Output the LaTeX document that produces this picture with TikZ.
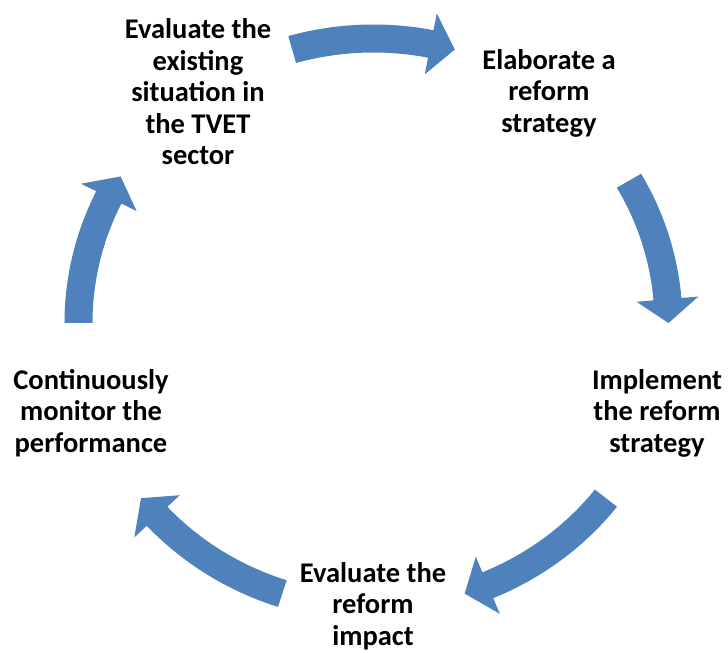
\documentclass[tikz,border=0pt]{standalone}
\usepackage{fontspec}
\setmainfont{Carlito}
\definecolor{cyclearrow}{HTML}{4F81BD}
\begin{document}
\begin{tikzpicture}[x=1pt,y=1pt,
  stage/.style={align=center, inner sep=0pt, text=black,
    font=\fontsize{28.5}{31.5}\selectfont\bfseries},
  arrowfill/.style={fill=cyclearrow}]
  % frame, ellipse centre at origin
  \useasboundingbox (-373.5pt,-330pt) rectangle (354.5pt,323pt);
  \fill[white] (-373.5pt,-330pt) rectangle (354.5pt,323pt);

  % curved block arrows around the cycle (tail angle / tip angle)
  \foreach \sa/\ta in {106/74, 30/0, -38/-72, -108/-142, 180/149} {
    \pgfmathsetmacro\ba{\ta+4.8}
    \fill[arrowfill]
      (\sa:309pt and 298.5pt)
        arc[start angle=\sa, end angle=\ba, x radius=309pt, y radius=298.5pt]
      -- (\ba:326pt and 315.5pt)
      -- (\ta:295pt and 284.5pt)
      -- (\ba:264pt and 253.5pt)
      -- (\ba:281pt and 270.5pt)
        arc[start angle=\ba, end angle=\sa, x radius=281pt, y radius=270.5pt]
      -- cycle;
  }

  % stage labels
  \node[stage] (evaluate) at (-175.5pt,231pt) {Evaluate the\\existing\\situation in\\the TVET\\sector};
  \node[stage] (elaborate) at (175.5pt,230pt) {Elaborate a\\reform\\strategy};
  \node[stage] (implement) at (283.5pt,-90pt) {Implement\\the reform\\strategy};
  \node[stage] (impact) at (-0.5pt,-283pt) {Evaluate the\\reform\\impact};
  \node[stage] (monitor) at (-282.5pt,-90pt) {Continuously\\monitor the\\performance};
\end{tikzpicture}
\end{document}
